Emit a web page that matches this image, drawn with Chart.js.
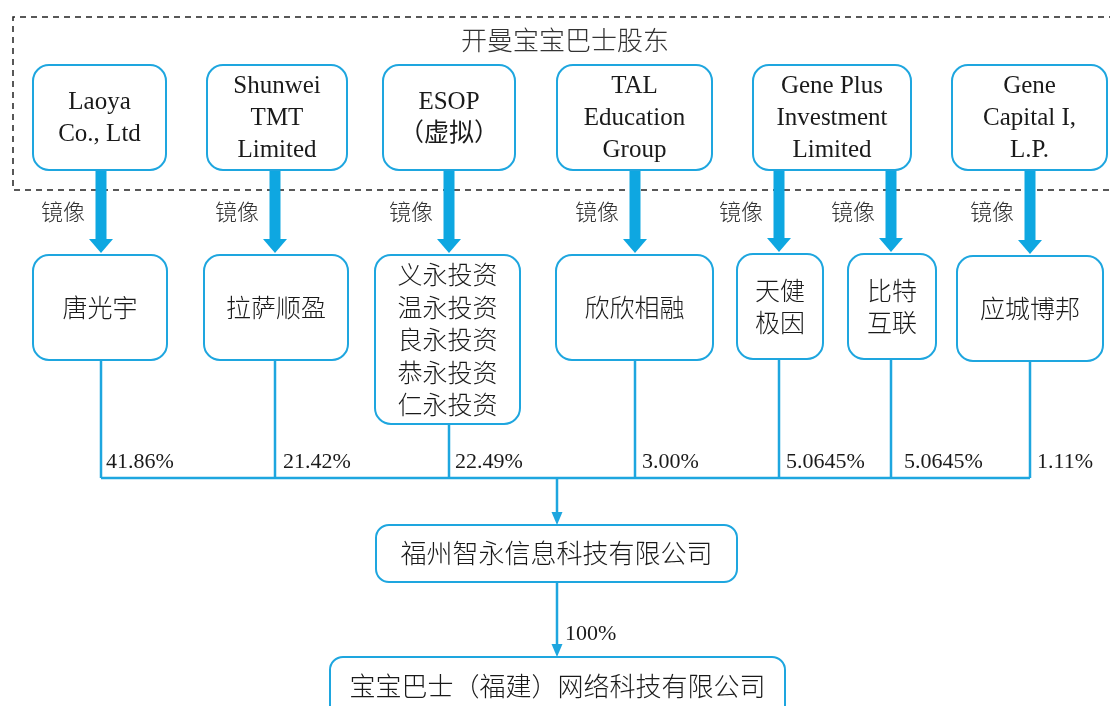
<!DOCTYPE html>
<html lang="zh">
<head>
    <meta charset="UTF-8">
    <title>宝宝巴士股权结构</title>
    <script src="https://cdn.jsdelivr.net/npm/chart.js"></script>
    <style>
        html, body { margin: 0; padding: 0; background: #fff; }
        #chart { display: block; }
    </style>
</head>
<body>
    <canvas id="chart" width="1110" height="706"></canvas>

    <script>
        // --- data ---
        const groupTitle = '开曼宝宝巴士股东';
        const holders = ['Laoya\nCo., Ltd', 'Shunwei\nTMT\nLimited', 'ESOP\n（虚拟）', 'TAL\nEducation\nGroup', 'Gene Plus\nInvestment\nLimited', 'Gene\nCapital I,\nL.P.'];
        const mirrors = ['唐光宇', '拉萨顺盈', '义永投资\n温永投资\n良永投资\n恭永投资\n仁永投资', '欣欣相融', '天健\n极因', '比特\n互联', '应城博邦'];
        const mirrorOf = [0, 1, 2, 3, 4, 4, 5];
        const mirrorLabel = '镜像';
        const stakes = [41.86, 21.42, 22.49, 3.00, 5.0645, 5.0645, 1.11];
        const stakeDigits = [2, 2, 2, 2, 4, 4, 2];
        const holdco = '福州智永信息科技有限公司';
        const opco = '宝宝巴士（福建）网络科技有限公司';
        const opcoStake = 100;

        // --- layout (canvas units, mapped through the hidden linear scales) ---
        const colX = [101, 275, 449, 635, 779, 891, 1030];
        const topBoxX = [[33, 166], [207, 347], [383, 515], [557, 712], [753, 911], [952, 1107]];
        const topY = [65, 170];
        const midBoxX = [[33, 167], [204, 348], [375, 520], [556, 713], [737, 823], [848, 936], [957, 1103]];
        const midY = [[255, 360], [255, 360], [255, 424], [255, 360], [254, 359], [254, 359], [256, 361]];
        const labelGap = [5, 8, 6, 7, 7, 13, 7];
        const busY = 478;
        const trunkX = 557;
        const holdBox = [376, 737, 525, 582];
        const opBox = [330, 785, 657, 730];

        const BLUE = '#1ea6df';
        const ARROW = '#0ea7e1';
        const TEXT = '#1a1a1a';
        const SERIF = '"Liberation Serif", "Noto Sans CJK SC", serif';
        const CJK = '"Noto Sans CJK SC", sans-serif';

        function seg(x1, y1, x2, y2) {
            return {
                data: [{ x: x1, y: y1 }, { x: x2, y: y2 }],
                showLine: true, pointRadius: 0, borderColor: BLUE, borderWidth: 2.5
            };
        }

        const datasets = [];
        mirrors.forEach((m, i) => datasets.push(seg(colX[i], midY[i][1], colX[i], busY)));
        datasets.push(seg(colX[0], busY, colX[colX.length - 1], busY));
        datasets.push(seg(trunkX, busY, trunkX, holdBox[2] - 10));
        datasets.push(seg(trunkX, holdBox[3], trunkX, opBox[2] - 10));

        function roundBox(ctx, x, y, w, h, r) {
            ctx.beginPath();
            ctx.moveTo(x + r, y);
            ctx.arcTo(x + w, y, x + w, y + h, r);
            ctx.arcTo(x + w, y + h, x, y + h, r);
            ctx.arcTo(x, y + h, x, y, r);
            ctx.arcTo(x, y, x + w, y, r);
            ctx.closePath();
            ctx.fillStyle = '#fff';
            ctx.fill();
            ctx.strokeStyle = BLUE;
            ctx.lineWidth = 2;
            ctx.stroke();
        }

        function lines(ctx, text, cx, cy, gap) {
            const parts = text.split('\n');
            const y0 = cy - (parts.length - 1) * gap / 2;
            parts.forEach((p, k) => ctx.fillText(p, cx, y0 + k * gap));
        }

        const diagram = {
            id: 'diagram',
            beforeDatasetsDraw(chart) {
                const { ctx, scales: { x, y } } = chart;
                const px = v => x.getPixelForValue(v);
                const py = v => y.getPixelForValue(v);
                ctx.save();
                // dashed group frame
                ctx.setLineDash([6, 5]);
                ctx.strokeStyle = '#222';
                ctx.lineWidth = 1.5;
                ctx.beginPath();
                ctx.moveTo(px(1115), py(17));
                ctx.lineTo(px(13), py(17));
                ctx.lineTo(px(13), py(190));
                ctx.lineTo(px(1115), py(190));
                ctx.stroke();
                ctx.setLineDash([]);
                ctx.fillStyle = '#333';
                ctx.font = '300 26px ' + CJK;
                ctx.textAlign = 'center';
                ctx.textBaseline = 'middle';
                ctx.fillText(groupTitle, px(565), py(40));
                ctx.restore();
            },
            afterDatasetsDraw(chart) {
                const { ctx, scales: { x, y } } = chart;
                const px = v => x.getPixelForValue(v);
                const py = v => y.getPixelForValue(v);
                ctx.save();
                ctx.textAlign = 'center';
                ctx.textBaseline = 'middle';

                // thick mirror arrows
                mirrors.forEach((m, i) => {
                    const ax = px(colX[i]), y1 = py(topY[1]), tip = py(midY[i][0] - 2);
                    ctx.fillStyle = ARROW;
                    ctx.fillRect(ax - 5.5, y1, 11, tip - 14 - y1);
                    ctx.beginPath();
                    ctx.moveTo(ax - 12, tip - 14);
                    ctx.lineTo(ax + 12, tip - 14);
                    ctx.lineTo(ax, tip);
                    ctx.closePath();
                    ctx.fill();
                    ctx.fillStyle = '#333';
                    ctx.font = '300 22px ' + CJK;
                    ctx.textAlign = 'right';
                    ctx.fillText(mirrorLabel, ax - 16, py(212));
                    ctx.textAlign = 'center';
                });

                // shareholder boxes
                holders.forEach((h, i) => {
                    const [l, r] = topBoxX[i];
                    roundBox(ctx, px(l), py(topY[0]), px(r) - px(l), py(topY[1]) - py(topY[0]), 16);
                    ctx.fillStyle = TEXT;
                    ctx.font = '25px ' + SERIF;
                    lines(ctx, h, px((l + r) / 2), py(118), 32);
                });

                // mirror entity boxes
                mirrors.forEach((m, i) => {
                    const [l, r] = midBoxX[i];
                    const [t, b] = midY[i];
                    roundBox(ctx, px(l), py(t), px(r) - px(l), py(b) - py(t), 16);
                    ctx.fillStyle = TEXT;
                    ctx.font = '300 25px ' + CJK;
                    lines(ctx, m, px((l + r) / 2), py((t + b) / 2), 32.5);
                });

                // stake labels
                ctx.textAlign = 'left';
                ctx.font = '22px ' + SERIF;
                ctx.fillStyle = TEXT;
                stakes.forEach((s, i) => {
                    ctx.fillText(s.toFixed(stakeDigits[i]) + '%', px(colX[i] + labelGap[i]), py(462));
                });
                ctx.fillText(opcoStake + '%', px(trunkX + 8), py(634));

                // small arrowheads on the trunk
                ctx.fillStyle = BLUE;
                [holdBox[2], opBox[2]].forEach(tipY => {
                    const ax = px(trunkX), tip = py(tipY);
                    ctx.beginPath();
                    ctx.moveTo(ax - 5.5, tip - 13);
                    ctx.lineTo(ax + 5.5, tip - 13);
                    ctx.lineTo(ax, tip);
                    ctx.closePath();
                    ctx.fill();
                });

                // company boxes
                ctx.textAlign = 'center';
                [[holdBox, holdco, 553], [opBox, opco, 686]].forEach(([bx, name, ty]) => {
                    roundBox(ctx, px(bx[0]), py(bx[2]), px(bx[1]) - px(bx[0]), py(bx[3]) - py(bx[2]), 13);
                    ctx.fillStyle = TEXT;
                    ctx.font = '300 26px ' + CJK;
                    ctx.fillText(name, px((bx[0] + bx[1]) / 2), py(ty));
                });
                ctx.restore();
            }
        };

        new Chart(document.getElementById('chart'), {
            type: 'scatter',
            data: { datasets: datasets },
            options: {
                responsive: false,
                animation: false,
                events: [],
                layout: { padding: 0 },
                plugins: { legend: { display: false }, tooltip: { enabled: false } },
                scales: {
                    x: { type: 'linear', min: 0, max: 1110, display: false },
                    y: { type: 'linear', min: 0, max: 706, reverse: true, display: false }
                }
            },
            plugins: [diagram]
        });
    </script>
</body>
</html>
